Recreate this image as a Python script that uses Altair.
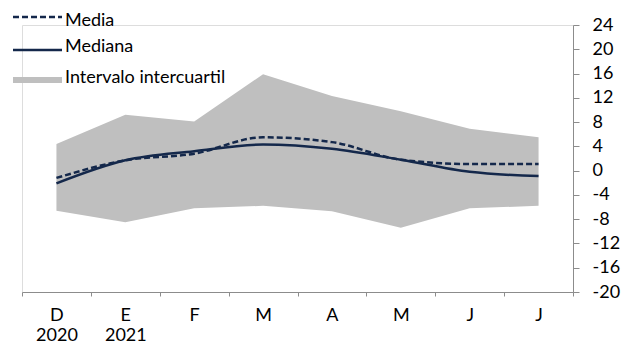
import altair as alt
import pandas as pd

months = ["D", "E", "F", "M", "A", "M", "J", "J"]
years = ["2020", "2021", "", "", "", "", "", ""]
upper = [4.4, 9.2, 8.1, 15.9, 12.3, 9.8, 6.9, 5.5]
lower = [-6.6, -8.5, -6.2, -5.8, -6.7, -9.4, -6.2, -5.8]
media = [-1.2, 1.7, 2.8, 5.5, 4.7, 1.8, 1.1, 1.1]
mediana = [-2.1, 1.7, 3.2, 4.3, 3.6, 1.8, -0.2, -0.9]
y_ticks = list(range(-20, 25, 4))
legend_labels = ["Media", "Mediana", "Intervalo intercuartil"]

NAVY = "#14284B"
GRAY = "#BFBFBF"
AXIS = "#8C8C8C"
FONT = "Lato"
FS = 18

df = pd.DataFrame({
    "i": list(range(len(months))),
    "upper": upper, "lower": lower, "media": media, "mediana": mediana,
})

label_arr = "[" + ",".join(f"['{m}','{y}']" for m, y in zip(months, years)) + "]"

x_enc = alt.X(
    "i:O",
    bandPosition=0.5,
    scale=alt.Scale(type="band", paddingInner=0, paddingOuter=0),
    axis=alt.Axis(
        title=None, labelAngle=0, labelExpr=f"{label_arr}[datum.value]",
        tickBand="extent", tickSize=4, tickColor=AXIS, domainColor=AXIS,
        labelFont=FONT, labelFontSize=FS, labelColor="#000000",
        labelLineHeight=20, labelPadding=10, grid=False,
    ),
)
y_scale = alt.Scale(domain=[-20, 24], nice=False, zero=False)
y_axis = alt.Axis(
    title=None, orient="right", values=y_ticks, grid=False, tickSize=6,
    tickColor=AXIS, domainColor=AXIS, labelPadding=13, labelAlign="left",
    labelFont=FONT, labelFontSize=FS, labelColor="#000000",
    labelExpr="datum.value + ''",
)

base = alt.Chart(df)
area = base.mark_area(color=GRAY, opacity=1).encode(
    x=x_enc, y=alt.Y("upper:Q", scale=y_scale, axis=y_axis), y2="lower:Q"
)
line_media = base.mark_line(color=NAVY, strokeWidth=2.5, strokeDash=[6, 3], interpolate="monotone").encode(
    x=x_enc, y=alt.Y("media:Q", scale=y_scale, axis=y_axis)
)
line_mediana = base.mark_line(color=NAVY, strokeWidth=2.5, interpolate="monotone").encode(
    x=x_enc, y=alt.Y("mediana:Q", scale=y_scale, axis=y_axis)
)

one = pd.DataFrame({"a": [0]})
leg = alt.Chart(one)
leg_dash = leg.mark_rule(color=NAVY, strokeWidth=2.5, strokeDash=[6, 3]).encode(
    x=alt.value(-9), x2=alt.value(40), y=alt.value(-8))
leg_solid = leg.mark_rule(color=NAVY, strokeWidth=2.5).encode(
    x=alt.value(-9), x2=alt.value(40), y=alt.value(25))
leg_rect = leg.mark_rect(color=GRAY).encode(
    x=alt.value(-9), x2=alt.value(40), y=alt.value(52), y2=alt.value(58))
leg_t1 = leg.mark_text(align="left", baseline="middle", font=FONT, fontSize=FS, color="#000000").encode(
    x=alt.value(43), y=alt.value(-4), text=alt.value(legend_labels[0]))
leg_t2 = leg.mark_text(align="left", baseline="middle", font=FONT, fontSize=FS, color="#000000").encode(
    x=alt.value(43), y=alt.value(22), text=alt.value(legend_labels[1]))
leg_t3 = leg.mark_text(align="left", baseline="middle", font=FONT, fontSize=FS, color="#000000").encode(
    x=alt.value(43), y=alt.value(53), text=alt.value(legend_labels[2]))

chart = alt.layer(
    area, line_media, line_mediana, leg_dash, leg_solid, leg_rect, leg_t1, leg_t2, leg_t3
).properties(
    width=551, height=267,
    autosize=alt.AutoSizeParams(type="none"),
    padding={"left": 14, "top": 17, "right": 55, "bottom": 52},
).configure_view(stroke=None).configure(background="#FFFFFF")

chart.save("out.html", embed_options={"renderer": "svg", "actions": False})
